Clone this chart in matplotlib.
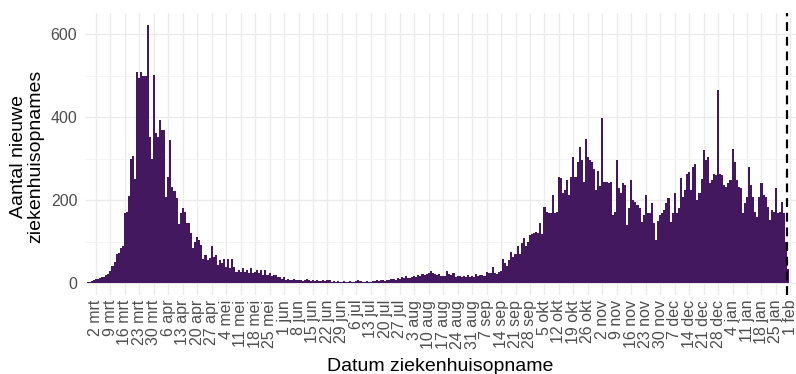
import numpy as np
import pandas as pd
import matplotlib
matplotlib.use("Agg")
import matplotlib.pyplot as plt
import matplotlib.dates as mdates

plt.rcParams['font.family'] = ['Liberation Sans', 'DejaVu Sans']

feb = [3, 3, 4]
mrt = [8, 10, 10, 12, 14, 15, 20, 22, 30, 40, 50, 70, 72, 85, 90, 168, 170, 210, 300, 307,
       250, 508, 495, 508, 498, 500, 623, 353, 298, 502, 361]
apr = [353, 392, 369, 370, 208, 255, 345, 232, 222, 204, 142, 168, 180, 172, 144, 144, 120, 84, 100, 112,
       104, 92, 59, 67, 55, 60, 88, 63, 67, 43]
mei = [55, 47, 59, 39, 57, 35, 59, 39, 27, 31, 27, 35, 27, 31, 23, 35, 23, 27, 31, 23,
       31, 19, 31, 19, 23, 17, 19, 19, 15, 14, 9]
jun = [15, 7, 10, 8, 6, 9, 8, 6, 7, 5, 6, 9, 8, 5, 6, 5, 6, 4, 5, 6,
       5, 7, 6, 3, 4, 3, 4, 3, 3, 4]
jul = [2, 3, 4, 3, 3, 4, 6, 5, 3, 3, 4, 3, 2, 4, 5, 6, 5, 6, 7, 5,
       6, 8, 9, 10, 8, 11, 10, 14, 12, 17, 13]
aug = [12, 15, 17, 14, 19, 16, 21, 19, 22, 25, 29, 24, 22, 19, 21, 18, 17, 16, 29, 22,
       20, 23, 15, 18, 17, 14, 16, 14, 19, 15, 16]
sep = [15, 21, 18, 19, 20, 18, 27, 23, 25, 39, 23, 22, 27, 30, 59, 47, 40, 55, 75, 62,
       70, 88, 71, 96, 108, 88, 100, 116, 118, 121]
okt = [124, 120, 144, 118, 184, 172, 168, 168, 212, 169, 172, 256, 252, 216, 224, 248, 212, 256, 304, 256,
       292, 328, 296, 244, 348, 304, 296, 292, 274, 224, 270]
nov = [234, 399, 244, 244, 240, 244, 164, 170, 296, 228, 216, 240, 236, 140, 180, 248, 200, 196, 188, 180,
       148, 164, 212, 168, 168, 192, 145, 104, 150, 164]
dec = [168, 176, 192, 204, 148, 168, 216, 168, 180, 252, 208, 224, 264, 268, 224, 280, 288, 200, 216, 250,
       320, 296, 304, 240, 248, 264, 260, 465, 264, 260, 236]
jan = [232, 240, 248, 322, 292, 248, 232, 228, 168, 192, 208, 280, 236, 208, 172, 160, 208, 242, 212, 208,
       184, 152, 176, 170, 228, 168, 172, 196, 168, 100, 33]

opnames = feb + mrt + apr + mei + jun + jul + aug + sep + okt + nov + dec + jan
datums = pd.date_range("2020-02-27", periods=len(opnames), freq="D")

maanden = ["jan", "feb", "mrt", "apr", "mei", "jun", "jul", "aug", "sep", "okt", "nov", "dec"]
tick_datums = pd.date_range("2020-03-02", "2021-02-01", freq="7D")
tick_labels = [f"{d.day} {maanden[d.month - 1]}" for d in tick_datums]

fig = plt.figure(figsize=(7.96, 3.74), dpi=100)
ax = fig.add_axes([0.1068, 0.2112, 0.8932, 0.754])

ax.bar(datums, opnames, width=1.0, color="#44185e", linewidth=0, zorder=2)
ax.axvline(pd.Timestamp("2021-01-30 12:00"), color="black", lw=1.6,
           linestyle=(0, (4, 2.6)), zorder=3)

ax.set_xlim(datums[0] - pd.Timedelta(days=1.3), datums[0] + pd.Timedelta(days=342.7))
ax.set_ylim(-29, 651)

ax.set_xticks(tick_datums)
ax.set_xticklabels(tick_labels, rotation=90, ha="center", va="top")
ax.set_yticks([0, 200, 400, 600])
ax.set_yticks([100, 300, 500], minor=True)
ax.xaxis.set_minor_locator(matplotlib.ticker.NullLocator())

ax.grid(which="major", color="#ebebeb", lw=1.0, zorder=0)
ax.grid(which="minor", axis="y", color="#f2f2f2", lw=0.6, zorder=0)
ax.set_axisbelow(True)
for s in ax.spines.values():
    s.set_visible(False)

ax.tick_params(axis="both", which="both", length=0, labelsize=11.5, labelcolor="#4d4d4d")
ax.tick_params(axis="x", pad=3.5)
ax.tick_params(axis="y", pad=5.5)

ax.set_xlabel("Datum ziekenhuisopname", fontsize=14)
ax.set_ylabel("Aantal nieuwe\nziekenhuisopnames", fontsize=14, linespacing=0.95)
ax.xaxis.set_label_coords(0.5, -0.225)
ax.yaxis.set_label_coords(-0.058, 0.49)

fig.savefig("out.png", dpi=100)
